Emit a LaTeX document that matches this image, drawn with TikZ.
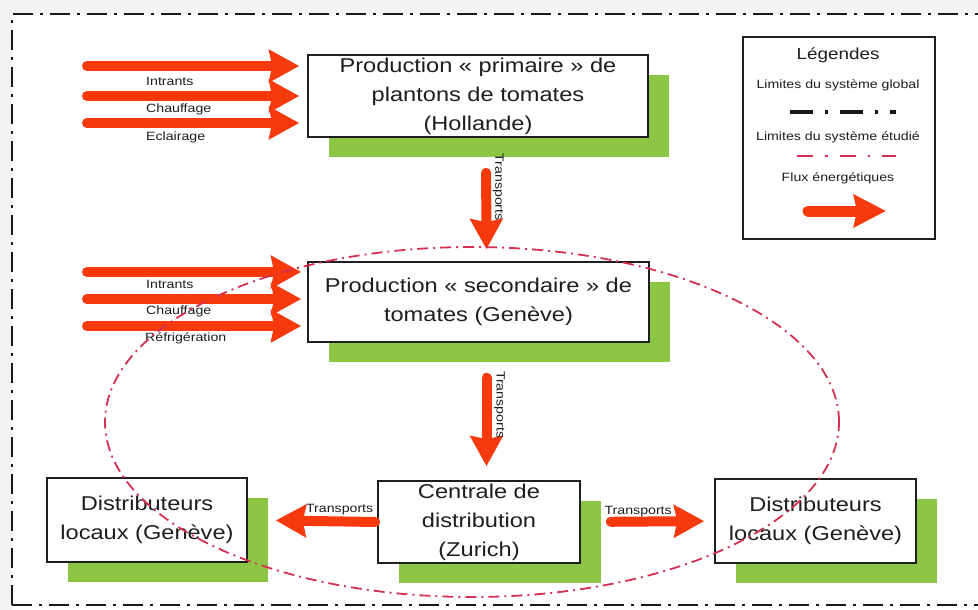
\documentclass[tikz,border=0pt]{standalone}
\usepackage{fontspec}
\setmainfont{Liberation Sans}[FakeStretch=1.18]
\usetikzlibrary{arrows.meta,shadows}

\definecolor{fluxred}{RGB}{246,58,14}
\definecolor{shadowgreen}{RGB}{141,198,68}
\definecolor{limitred}{RGB}{212,48,82}
\definecolor{inkgray}{RGB}{30,30,30}
\definecolor{paper}{RGB}{243,243,243}

\tikzset{
  stage/.style={draw=inkgray, line width=1.6pt, fill=white, align=center,
    inner sep=0pt, text=inkgray, font=\fontsize{20}{29}\selectfont,
    general shadow={fill=shadowgreen, shadow xshift=21pt, shadow yshift=-20pt}},
  flux/.style={draw=fluxred, fill=fluxred, line width=10pt, line cap=round,
    -{Stealth[length=30pt, width=32pt, inset=3pt]}},
  fluxlabel/.style={font=\fontsize{12}{14}\selectfont, text=inkgray, inner sep=0pt},
  legendtext/.style={font=\fontsize{12}{14}\selectfont, text=inkgray, inner sep=0pt},
  globallimit/.style={draw=black!90, line width=2.6pt, dash pattern=on 20pt off 7pt on 3pt off 7pt},
  studylimit/.style={draw=limitred, line width=1.8pt, dash pattern=on 11pt off 5pt on 2pt off 5pt},
}

\begin{document}
\begin{tikzpicture}[x=1pt, y=-1pt]
  \useasboundingbox (0,0) rectangle (978,610);
  \fill[paper] (0,0) rectangle (978,610);
  \fill[white] (12,14) rectangle (978,610);

  % global system boundary
  \draw[globallimit] (12,605) -- (12,14) -- (978,14);
  \draw[globallimit] (12,605) -- (978,605);

  % stages of the chain
  \node[stage, minimum width=340pt, minimum height=82pt] (p1) at (478,96)
    {Production « primaire » de\\plantons de tomates\\(Hollande)};
  \node[stage, minimum width=341pt, minimum height=80pt] (p2) at (478.5,302)
    {Production « secondaire » de\\tomates (Genève)};
  \node[stage, minimum width=200pt, minimum height=84pt] (dl) at (147,520)
    {Distributeurs\\locaux (Genève)};
  \node[stage, minimum width=202pt, minimum height=82pt] (cz) at (479,522)
    {Centrale de\\distribution\\(Zurich)};
  \node[stage, minimum width=201pt, minimum height=84pt] (dr) at (815.5,521)
    {Distributeurs\\locaux (Genève)};

  % energy inputs of the primary production
  \coordinate (a1) at (87,66);
  \coordinate (a2) at (87,96);
  \coordinate (a3) at (87,123);
  \draw[flux, shorten >=8pt] (a1) -- (a1 -| p1.west);
  \draw[flux, shorten >=8pt] (a2) -- (a2 -| p1.west);
  \draw[flux, shorten >=8pt] (a3) -- (a3 -| p1.west);
  \node[fluxlabel, anchor=west] (t1) at (146,81) {Intrants};
  \node[fluxlabel, anchor=west] (t2) at (146,109) {Chauffage};
  \node[fluxlabel, anchor=west] (t3) at (146,137) {Eclairage};

  % energy inputs of the secondary production
  \coordinate (b1) at (87,272);
  \coordinate (b2) at (87,299);
  \coordinate (b3) at (87,326);
  \draw[flux, shorten >=6pt] (b1) -- (b1 -| p2.west);
  \draw[flux, shorten >=6pt] (b2) -- (b2 -| p2.west);
  \draw[flux, shorten >=6pt] (b3) -- (b3 -| p2.west);
  \node[fluxlabel, anchor=west] (u1) at (146,284) {Intrants};
  \node[fluxlabel, anchor=west] (u2) at (146,311) {Chauffage};
  \node[fluxlabel, anchor=west] (u3) at (145,338) {Réfrigération};

  % transports between the stages
  \draw[flux, shorten <=35pt, shorten >=12pt] ([xshift=8pt]p1.south) -- ([xshift=8pt]p2.north)
    node[fluxlabel, pos=0.4, xshift=12pt, rotate=-90] (tr1) {Transports};
  \draw[flux, shorten <=35pt, shorten >=14pt] ([xshift=8pt]p2.south) -- ([xshift=8pt]p2.south |- cz.north)
    node[fluxlabel, pos=0.45, xshift=13pt, rotate=-90] (tr2) {Transports};
  \draw[flux, shorten <=2pt, shorten >=28pt] (cz.west) -- (dl.east)
    node[fluxlabel, pos=0.29, yshift=12pt] (tr3) {Transports};
  \draw[flux, shorten <=30pt, shorten >=10pt] (cz.east) -- (dr.west)
    node[fluxlabel, pos=0.43, yshift=10pt] (tr4) {Transports};

  % legend
  \node[draw=inkgray, line width=1.6pt, fill=white, minimum width=192pt, minimum height=202pt] (leg) at (839,138) {};
  \node[text=inkgray, font=\fontsize{16}{18}\selectfont, inner sep=0pt] (lt) at (838,55) {Légendes};
  \node[legendtext] (lg) at (838,85) {Limites du système global};
  \coordinate (g1) at (790,112);
  \coordinate (g2) at (896,112);
  \draw[black!90, line width=3pt, dash pattern=on 23pt off 12pt on 3pt off 12pt] (g1) -- (g2);
  \node[legendtext] (ls) at (838,137) {Limites du système étudié};
  \coordinate (s1) at (797,156);
  \coordinate (s2) at (896,156);
  \draw[limitred, line width=1.8pt, dash pattern=on 16pt off 12pt on 2.5pt off 12pt] (s1) -- (s2);
  \node[legendtext] (lf) at (838,178) {Flux énergétiques};
  \coordinate (f1) at (808,211);
  \coordinate (f2) at (886,211);
  \draw[flux, line width=11pt, -{Stealth[length=32pt, width=32pt, inset=3pt]}] (f1) -- (f2);

  % boundary of the studied system
  \draw[studylimit] (472,422) ellipse [x radius=367pt, y radius=175pt];
\end{tikzpicture}
\end{document}
